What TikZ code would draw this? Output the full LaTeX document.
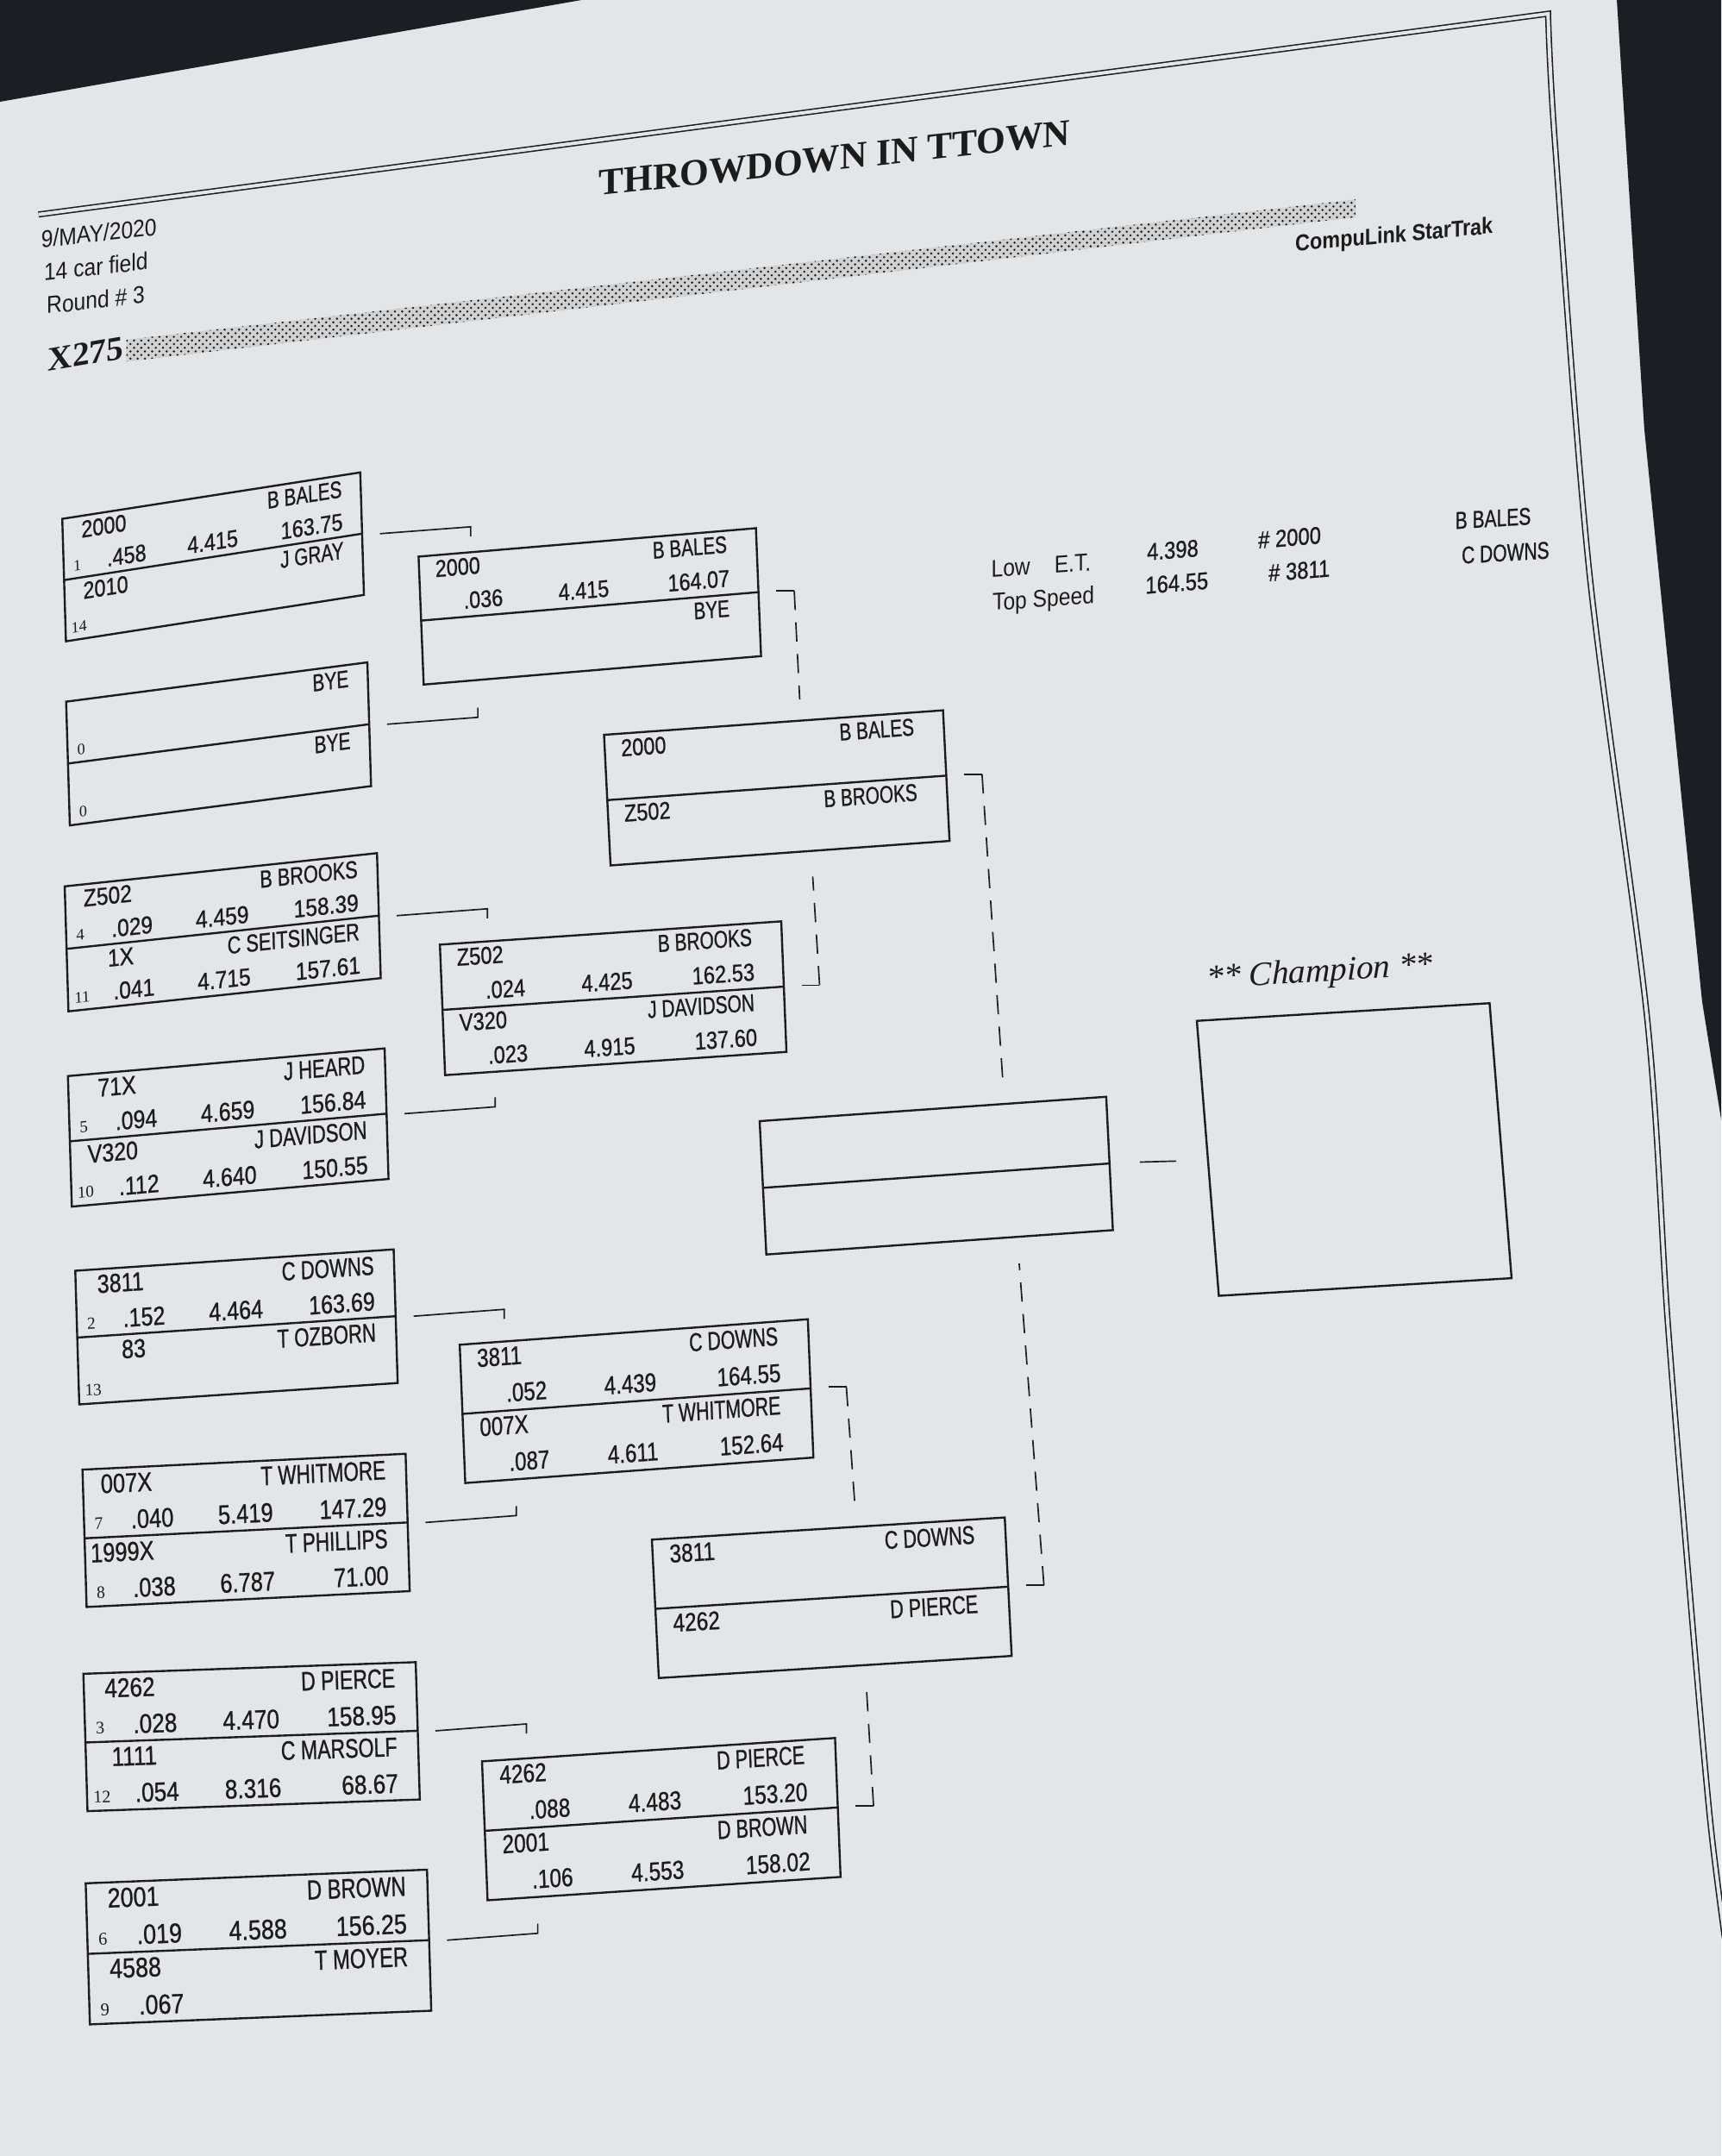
\documentclass[tikz,border=0pt]{standalone}
\usepackage{fontspec}
\setmainfont{Liberation Serif}
\newfontfamily\drvfont[FakeStretch=0.75, FakeBold=0.8]{Liberation Sans}
\newfontfamily\numfont[FakeStretch=0.85, FakeBold=0.8]{Liberation Sans}
\newfontfamily\hdrfont[FakeStretch=0.88]{Liberation Sans}
\usetikzlibrary{calc, patterns}
\definecolor{paper}{RGB}{226,230,233}
\definecolor{desk}{RGB}{27,31,37}
\definecolor{ink}{RGB}{28,28,30}

\begin{document}
\begin{tikzpicture}[x=0.02cm, y=-0.02cm,
    every node/.style={inner sep=0pt, outer sep=0pt, text=ink},
    slot/.style={draw=ink, line width=0.85pt},
    racer/.style={font=\drvfont\fontsize{10}{12}\selectfont},
    digits/.style={font=\numfont\fontsize{10}{12}\selectfont},
    seednum/.style={font=\fontsize{6.5}{7}\selectfont},
    hdr/.style={font=\hdrfont\fontsize{10}{12}\selectfont},
    link/.style={draw=ink, line width=0.6pt},
    gapline/.style={link, dash pattern=on 0.28cm off 0.18cm}]

    % Paper and desk
    \fill[paper] (0,0) rectangle (1252,1568);
    \fill[desk] (0,0) -- (423,0) -- (0,74) -- cycle;
    \fill[desk] (1176,0) -- (1196,312) -- (1217,520) -- (1238,728) -- (1252,815) -- (1252,0) -- cycle;
    \useasboundingbox (0,0) rectangle (1252,1568);

    % Page border
    \draw[ink, line width=0.55pt, double=paper, double distance=0.05cm]
        (28,156) -- plot[smooth] coordinates {(1126,10) (1131,104) (1156,416) (1198,740) (1213,961) (1230,1169) (1244,1325) (1256,1420)};

    % Heading
    \node[font=\bfseries\fontsize{15.5}{18}\selectfont, yslant=0.108] (title) at (607,115) {THROWDOWN IN TTOWN};
    \node[hdr, anchor=west, yslant=0.11] (date) at (30,174) {9/MAY/2020};
    \node[hdr, anchor=west, yslant=0.11] (field) at (32,198) {14 car field};
    \node[hdr, anchor=west, yslant=0.11] (round) at (34,222) {Round \# 3};
    \node[font=\bfseries\fontsize{14}{16}\selectfont, anchor=west, yslant=0.17] (class) at (35,262) {X275};
    \fill[black!18] (92,247) -- (986,145) -- (986,158) -- (92,263) -- cycle;
    \fill[pattern=crosshatch dots, pattern color=ink] (92,247) -- (986,145) -- (986,158) -- (92,263) -- cycle;
    \node[font=\hdrfont\bfseries\fontsize{9.5}{11}\selectfont, yslant=0.09] (brand) at (1014,172) {CompuLink StarTrak};

    % Low ET and top speed
    \node[hdr, anchor=base west, yslant=0.07] (lowet) at (721,420) {Low\quad E.T.};
    \node[hdr, anchor=base west, yslant=0.07] (topspd) at (722,444) {Top Speed};
    \node[digits, yslant=0.08] (lowet-v) at (853,400) {4.398};
    \node[digits, yslant=0.08] (topspd-v) at (856,424) {164.55};
    \node[digits, yslant=0.08] (lowet-car) at (938,391) {\# 2000};
    \node[digits, yslant=0.08] (topspd-car) at (945,415) {\# 3811};
    \node[racer, yslant=0.06] (lowet-drv) at (1086,377) {B BALES};
    \node[racer, yslant=0.06] (topspd-drv) at (1095,402) {C DOWNS};

    % First round
    \foreach \bx/\x/\y/\sx/\sy/\sk/\ca/\na/\sa/\ra/\ea/\va/\cb/\nb/\sbb/\rb/\eb/\vb in {
        m1/155/405/.99/.99/.155/2000/B BALES/1/.458/4.415/163.75/2010/J GRAY/14/{}/{}/{},
        m2/159/541/1.0/1.0/.13/{}/BYE/0/{}/{}/{}/{}/BYE/0/{}/{}/{},
        m3/162/678/1.036/1.01/.106/Z502/B BROOKS/4/.029/4.459/158.39/1X/C SEITSINGER/11/.041/4.715/157.61,
        m4/166/820/1.05/1.055/.087/71X/J HEARD/5/.094/4.659/156.84/V320/J DAVIDSON/10/.112/4.640/150.55,
        m5/172/965/1.055/1.08/.067/3811/C DOWNS/2/.152/4.464/163.69/83/T OZBORN/13/{}/{}/{},
        m6/179/1113/1.07/1.11/.049/007X/T WHITMORE/7/.040/5.419/147.29/1999X/T PHILLIPS/8/.038/6.787/71.00,
        m7/183/1263/1.1/1.11/.035/4262/D PIERCE/3/.028/4.470/158.95/1111/C MARSOLF/12/.054/8.316/68.67,
        m8/188/1416/1.13/1.14/.04/2001/D BROWN/6/.019/4.588/156.25/4588/T MOYER/9/.067/{}/{}} {
      \begin{scope}[shift={(\x,\y)}, xslant=-0.03, yslant=\sk, xscale=\sx, yscale=\sy, transform shape]
        \node[slot, minimum width=4.4cm, minimum height=1.8cm] (\bx) at (0,0) {};
        \draw[slot] (\bx.west) -- (\bx.east);
        \node[digits, anchor=east] (\bx-ca) at (-63,-35) {\ca};
        \node[racer, anchor=east] (\bx-na) at (96,-35) {\na};
        \node[seednum] (\bx-sa) at (-100,-9) {\sa};
        \node[digits, anchor=east] (\bx-ra) at (-49,-11) {\ra};
        \node[digits] (\bx-ea) at (0,-11) {\ea};
        \node[digits, anchor=east] (\bx-va) at (96,-11) {\va};
        \node[digits, anchor=east] (\bx-cb) at (-63,10) {\cb};
        \node[racer, anchor=east] (\bx-nb) at (96,10) {\nb};
        \node[seednum] (\bx-sb) at (-100,36) {\sbb};
        \node[digits, anchor=east] (\bx-rb) at (-49,34) {\rb};
        \node[digits] (\bx-eb) at (0,34) {\eb};
        \node[digits, anchor=east] (\bx-vb) at (96,34) {\vb};
      \end{scope}
    }

    % Second round
    \foreach \bx/\x/\y/\sx/\sy/\sk/\ca/\na/\ra/\ea/\va/\cb/\nb/\rb/\eb/\vb in {
        r1/429/441/.985/.99/.084/2000/B BALES/.036/4.415/164.07/{}/BYE/{}/{}/{},
        r2/446/726/.996/1.01/.068/Z502/B BROOKS/.024/4.425/162.53/V320/J DAVIDSON/.023/4.915/137.60,
        r3/463/1019/1.016/1.07/.073/3811/C DOWNS/.052/4.439/164.55/007X/T WHITMORE/.087/4.611/152.64,
        r4/481/1323/1.03/1.075/.066/4262/D PIERCE/.088/4.483/153.20/2001/D BROWN/.106/4.553/158.02} {
      \begin{scope}[shift={(\x,\y)}, xslant=-0.04, yslant=\sk, xscale=\sx, yscale=\sy, transform shape]
        \node[slot, minimum width=5cm, minimum height=1.88cm] (\bx) at (0,0) {};
        \draw[slot] (\bx.west) -- (\bx.east);
        \node[digits, anchor=west] (\bx-ca) at (-113,-37) {\ca};
        \node[racer, anchor=east] (\bx-na) at (103,-37) {\na};
        \node[digits, anchor=west] (\bx-ra) at (-93,-12) {\ra};
        \node[digits] (\bx-ea) at (-4,-12) {\ea};
        \node[digits, anchor=east] (\bx-va) at (104,-12) {\va};
        \node[digits, anchor=west] (\bx-cb) at (-113,10) {\cb};
        \node[racer, anchor=east] (\bx-nb) at (103,10) {\nb};
        \node[digits, anchor=west] (\bx-rb) at (-93,35) {\rb};
        \node[digits] (\bx-eb) at (-4,35) {\eb};
        \node[digits, anchor=east] (\bx-vb) at (104,35) {\vb};
      \end{scope}
    }

    % Semi finals
    \foreach \bx/\x/\y/\sx/\sy/\sk/\ca/\na/\cb/\nb in {
        s1/565/573/.99/1.0/.072/2000/B BALES/Z502/B BROOKS,
        s2/605/1162/1.03/1.06/.0625/3811/C DOWNS/4262/D PIERCE} {
      \begin{scope}[shift={(\x,\y)}, xslant=-0.05, yslant=\sk, xscale=\sx, yscale=\sy, transform shape]
        \node[slot, minimum width=5cm, minimum height=1.9cm] (\bx) at (0,0) {};
        \draw[slot] (\bx.west) -- (\bx.east);
        \node[digits, anchor=west] (\bx-ca) at (-113,-37) {\ca};
        \node[racer, anchor=east] (\bx-na) at (103,-37) {\na};
        \node[digits, anchor=west] (\bx-cb) at (-113,10.5) {\cb};
        \node[racer, anchor=east] (\bx-nb) at (103,10.5) {\nb};
      \end{scope}
    }

    % Final and champion
    \begin{scope}[shift={(681,855)}, xslant=-0.05, yslant=0.07, transform shape]
        \node[slot, minimum width=5.06cm, minimum height=1.94cm] (fin) at (0,0) {};
        \draw[slot] (fin.west) -- (fin.east);
    \end{scope}
    \begin{scope}[shift={(985,836)}, xslant=-0.08, yslant=0.06, transform shape]
        \node[slot, minimum width=4.28cm, minimum height=4cm] (champ) at (0,0) {};
    \end{scope}
    \node[font=\itshape\fontsize{14}{16}\selectfont, yslant=0.06] (champ-lbl) at (960,708) {** Champion **};

    % First round into second round
    \foreach \bx/\d in {m1/1, m2/-1, m3/1, m4/-1, m5/1, m6/-1, m7/1, m8/-1}
        \draw[link] ($(\bx.east)+(13,0)$) -- ++(66,-5) -- ++(0,7*\d);

    % Later rounds
    \foreach \bx/\dx/\dy in {r1/4/79, r2/-5/-79, r3/6/83, r4/-5/-83, s1/15/221, s2/-18/-234} {
        \draw[link] ($(\bx.east)+(13,-1)$) -- ++(13,0) coordinate (\bx-hook);
        \draw[gapline] (\bx-hook) -- ++(\dx,\dy);
    }

    % Final into champion
    \draw[link] ($(fin.east)+(22,-1)$) -- ($(champ.west)+(-23,2)$);
\end{tikzpicture}
\end{document}
